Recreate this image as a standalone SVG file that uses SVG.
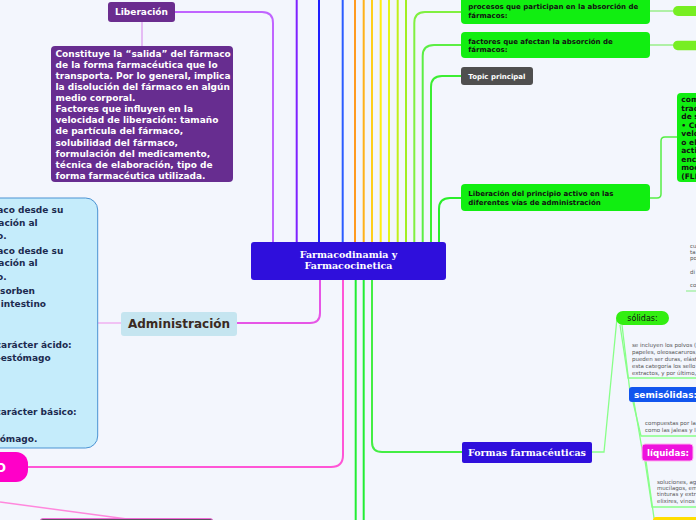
<svg xmlns="http://www.w3.org/2000/svg" width="696" height="520" viewBox="0 0 696 520">
<style>
.sans{font-family:"DejaVu Sans",Verdana,sans-serif}
.b{font-weight:bold}
.serif{font-family:"DejaVu Serif",Georgia,serif;font-weight:bold;fill:#fff}
.wt{fill:#fff}
.blk{fill:#111}
.gr{fill:#555;font-size:5.5px}
.ln{fill:none;stroke-width:2}
.thin{fill:none;stroke:#88ff88;stroke-width:1.3}
.green{fill:#11ee11}
</style>
<rect x="0" y="0" width="696" height="520" fill="#f3f6fd"/>
<g id="connectors">
<path class="ln" d="M175,12 H262 Q273,12 273,23 V242" stroke="#c064ff"/>
<path class="ln" d="M296.7,0 V242" stroke="#7f22ff"/>
<path class="ln" d="M319,0 V242" stroke="#1f1fff"/>
<path class="ln" d="M342.7,0 V242" stroke="#2a5cff"/>
<path class="ln" d="M355,0 V242" stroke="#ff9a1f"/>
<path class="ln" d="M363.7,0 V242" stroke="#ffb21a"/>
<path class="ln" d="M372,0 V242" stroke="#ffcf1a"/>
<path class="ln" d="M380.7,0 V242" stroke="#ffee11"/>
<path class="ln" d="M389,0 V242" stroke="#e4f51a"/>
<path class="ln" d="M397.7,0 V242" stroke="#c2f01a"/>
<path class="ln" d="M406,0 V242" stroke="#a2ef22"/>
<path class="ln" d="M414.3,242 V23 Q414.3,12 425,12 H461" stroke="#80f040"/>
<path class="ln" d="M422.7,242 V56 Q422.7,45 434,45 H461" stroke="#5cee44"/>
<path class="ln" d="M431,242 V87 Q431,76 442,76 H461" stroke="#3cee33"/>
<path class="ln" d="M439,242 V209 Q439,198 450,198 H461" stroke="#2aee2a"/>
<path class="ln" d="M320,280 V313 Q320,323 310,323 H237" stroke="#e655e6"/>
<path fill="none" stroke="#f0b0f0" stroke-width="1.5" d="M98,323 H121"/>
<path class="ln" d="M343,280 V455 Q343,467 331,467 H28" stroke="#ff55d6"/>
<path fill="none" stroke="#ff88dd" stroke-width="1.5" d="M0,502 L127,519"/>
<path class="ln" d="M355.7,280 V520" stroke="#22ee33"/>
<path class="ln" d="M363.7,280 V520" stroke="#22ee33"/>
<path class="ln" d="M372,280 V442 Q372,452 382,452 H462" stroke="#44ee44"/>
<path fill="none" stroke="#e0a8f0" stroke-width="1.5" d="M142,22 V46"/>
<path fill="none" stroke="#99ee88" stroke-width="1.5" d="M650,11 H673"/>
<path fill="none" stroke="#99ee88" stroke-width="1.5" d="M650,45 H673"/>
<path fill="none" stroke="#55ee44" stroke-width="1.5" d="M650,198 H657 Q661,198 661,194 V141 Q661,137 665,137 H677"/>
<path class="thin" d="M592,452 H604 L617,318"/>
<path class="thin" d="M620,325 L628,378 H696"/>
<path class="thin" d="M622,325 L630,392"/>
<path class="thin" d="M633,402 L641,436 H696"/>
<path class="thin" d="M634,402 L643,455"/>
<path class="thin" d="M645,461 L652,507 H696"/>
<path class="thin" d="M646,461 L654,518"/>
<path fill="none" stroke="#aaf0aa" stroke-width="1.5" d="M686,291 H696"/>
</g>
<g id="center">
<rect x="251" y="242" width="195" height="38" rx="3" fill="#2f0fdc"/>
<text class="serif" font-size="9.5" text-anchor="middle" x="348.5" y="258">Farmacodinamia y</text>
<text class="serif" font-size="9.5" text-anchor="middle" x="348.5" y="269">Farmacocinetica</text>
</g>
<g id="liberacion">
<rect x="108" y="2" width="67" height="20" rx="3" fill="#6b2d8f"/>
<text class="sans b wt" font-size="9" text-anchor="middle" x="141.5" y="15.3">Liberación</text>
</g>
<g id="liberacion-desc">
<rect x="51" y="46" width="182" height="136" rx="4" fill="#672d90"/>
<text class="sans b wt" font-size="9">
<tspan x="55.5" y="57">Constituye la “salida” del fármaco</tspan>
<tspan x="55.5" y="68.1">de la forma farmacéutica que lo</tspan>
<tspan x="55.5" y="79.1">transporta. Por lo general, implica</tspan>
<tspan x="55.5" y="90.2">la disolución del fármaco en algún</tspan>
<tspan x="55.5" y="101.2">medio corporal.</tspan>
<tspan x="55.5" y="112.3">Factores que influyen en la</tspan>
<tspan x="55.5" y="123.4">velocidad de liberación: tamaño</tspan>
<tspan x="55.5" y="134.4">de partícula del fármaco,</tspan>
<tspan x="55.5" y="145.5">solubilidad del fármaco,</tspan>
<tspan x="55.5" y="156.5">formulación del medicamento,</tspan>
<tspan x="55.5" y="167.6">técnica de elaboración, tipo de</tspan>
<tspan x="55.5" y="178.7">forma farmacéutica utilizada.</tspan>
</text>
</g>
<g id="admin-desc">
<rect x="-20" y="198" width="117.7" height="250" rx="12" fill="#c5ecfb" stroke="#4b93d3" stroke-width="1"/>
<g class="sans b" font-size="9" fill="#1c2a4f" text-anchor="end">
<text x="63.3" y="212.5">aco desde su</text>
<text x="37.7" y="226">ación al</text>
<text x="6.7" y="239">o.</text>
<text x="63.3" y="253.5">aco desde su</text>
<text x="37.7" y="266">ación al</text>
<text x="6.7" y="280">o.</text>
<text x="35" y="293.5">sorben</text>
<text x="46" y="307">intestino</text>
<text x="71.7" y="347.5">carácter ácido:</text>
<text x="50.7" y="361">-estómago</text>
<text x="76.7" y="415">carácter básico:</text>
<text x="37.3" y="442">ómago.</text>
</g>
</g>
<g id="administracion">
<rect x="121" y="312" width="116" height="24" rx="3" fill="#c5e5f0"/>
<text class="sans b" font-size="12" fill="#3b2a1f" text-anchor="middle" x="179" y="328.3">Administración</text>
</g>
<g id="pink-node">
<rect x="-20" y="452" width="48" height="30" rx="12" fill="#ff00c8"/>
<text class="sans b wt" font-size="12" text-anchor="end" x="6" y="471.5">O</text>
</g>
<g id="bottom-node">
<rect x="40" y="518.5" width="173" height="10" rx="3" fill="#5c5060" stroke="#f06ad8" stroke-width="1"/>
</g>
<g id="procesos">
<rect x="461" y="-6" width="189" height="30" rx="4" class="green"/>
<text class="sans b blk" font-size="7">
<tspan x="468.3" y="9.3">procesos que participan en la absorción de</tspan>
<tspan x="468.3" y="17.6">fármacos:</tspan>
</text>
</g>
<g id="pill1"><rect x="673" y="6" width="30" height="10" rx="5" fill="#77ee22"/></g>
<g id="factores">
<rect x="461" y="32" width="189" height="26" rx="4" class="green"/>
<text class="sans b blk" font-size="7">
<tspan x="468.3" y="44.2">factores que afectan la absorción de</tspan>
<tspan x="468.3" y="51.8">fármacos:</tspan>
</text>
</g>
<g id="pill2"><rect x="673" y="40.7" width="30" height="9.5" rx="4.7" fill="#77ee22"/></g>
<g id="topic">
<rect x="461" y="67" width="72" height="18" rx="3" fill="#4f4f4f"/>
<text class="sans b wt" font-size="7" x="468.3" y="78.6">Topic principal</text>
</g>
<g id="liberacion-principio">
<rect x="461" y="184" width="189" height="27" rx="4" class="green"/>
<text class="sans b blk" font-size="7">
<tspan x="468.3" y="195.8">Liberación del principio activo en las</tspan>
<tspan x="468.3" y="204.8">diferentes vías de administración</tspan>
</text>
</g>
<g id="right-desc">
<rect x="677" y="93" width="40" height="89" rx="4" class="green"/>
<text class="sans b blk" font-size="7.5">
<tspan x="681.3" y="102">com</tspan>
<tspan x="681.3" y="110.5">trac</tspan>
<tspan x="681.3" y="119">de s</tspan>
<tspan x="681.3" y="127.5">• Cu</tspan>
<tspan x="681.3" y="136">velo</tspan>
<tspan x="681.3" y="144.5">o el</tspan>
<tspan x="681.3" y="153">acti</tspan>
<tspan x="681.3" y="161.5">ence</tspan>
<tspan x="681.3" y="170">moc</tspan>
<tspan x="681.3" y="178.5">(FLI</tspan>
</text>
</g>
<g id="right-small">
<text class="sans gr">
<tspan x="690" y="248">cu</tspan>
<tspan x="690" y="254">ta</tspan>
<tspan x="690" y="260">po</tspan>
<tspan x="690" y="274">di</tspan>
<tspan x="690" y="287">co</tspan>
</text>
</g>
<g id="formas">
<rect x="462" y="442" width="130" height="21" rx="2" fill="#2f0fdc"/>
<text class="serif" font-size="9.5" text-anchor="middle" x="527" y="456">Formas farmacéuticas</text>
</g>
<g id="solidos">
<rect x="616" y="311" width="53" height="14" rx="7" fill="#33ee11"/>
<text class="sans blk" font-size="8" text-anchor="middle" x="642.5" y="321">sólidas:</text>
</g>
<g id="solidos-desc">
<text class="sans gr">
<tspan x="632" y="347">se incluyen los polvos (</tspan>
<tspan x="632" y="354">papeles, oleosacaruros,</tspan>
<tspan x="632" y="361">pueden ser duras, elást</tspan>
<tspan x="632" y="368">esta categoría los sello</tspan>
<tspan x="632" y="375">extractos, y por último,</tspan>
</text>
</g>
<g id="semisolidas">
<rect x="629" y="387" width="75" height="15" rx="3" fill="#1155ee"/>
<text class="sans b wt" font-size="9" x="634" y="398">semisólidas:</text>
</g>
<g id="semisolidas-desc">
<text class="sans gr">
<tspan x="645" y="424.5">compuestas por la</tspan>
<tspan x="645" y="432">como las jaleas y l</tspan>
</text>
</g>
<g id="liquidas">
<rect x="642" y="444" width="51" height="17" rx="3" fill="#ee11dd" stroke="#ffb0f0" stroke-width="1"/>
<text class="sans b wt" font-size="8.7" x="647" y="456">líquidas:</text>
</g>
<g id="liquidas-desc">
<text class="sans gr">
<tspan x="657" y="484">soluciones, ag</tspan>
<tspan x="657" y="490">mucílagos, em</tspan>
<tspan x="657" y="496">tinturas y extr</tspan>
<tspan x="657" y="502.5">elixires, vinos</tspan>
</text>
</g>
<g id="yellow-node"><rect x="653" y="517" width="50" height="10" rx="3" fill="#ffdd00"/></g>
</svg>
